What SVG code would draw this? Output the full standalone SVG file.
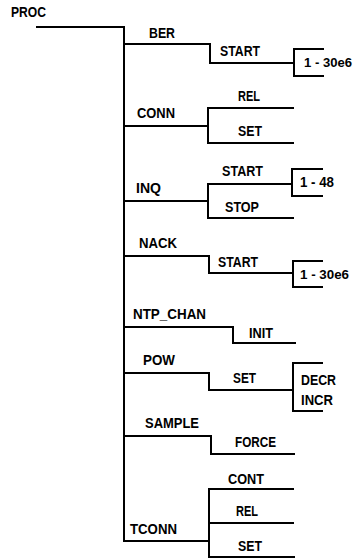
<svg xmlns="http://www.w3.org/2000/svg" width="355" height="559" viewBox="0 0 355 559">
<style>
text{font-family:"Liberation Sans",Arial,sans-serif;font-weight:bold;font-size:14.5px;fill:#000}
text.r{font-size:13px}
.c path{fill:none;stroke:#000;stroke-width:2;stroke-linecap:square}
</style>
<rect width="355" height="559" fill="#fff"/>
<g class="c" id="connectors">
<path d="M37,27 H124 V541 H209"/>
<path d="M124,44 H210 V63 H294"/>
<path d="M323,49 H294 V76 H323"/>
<path d="M124,126 H208"/>
<path d="M293,108 H208 V143 H293"/>
<path d="M124,201 H208"/>
<path d="M292,184 H208 V218 H293"/>
<path d="M322,169 H292 V196 H322"/>
<path d="M124,256 H209 V273 H293"/>
<path d="M322,261 H293 V287 H322"/>
<path d="M124,327 H233 V343 H295"/>
<path d="M124,373 H209 V390 H293"/>
<path d="M322,363 H293 V411 H322"/>
<path d="M124,436 H211 V454 H294"/>
<path d="M293,489 H209 V557 H294"/>
<path d="M209,523 H293"/>
</g>
<g id="proc"><text x="11" y="17" textLength="35" lengthAdjust="spacingAndGlyphs">PROC</text></g>
<g id="ber"><text x="149" y="38" textLength="26" lengthAdjust="spacingAndGlyphs">BER</text></g>
<g id="ber-start"><text x="220" y="56" textLength="40" lengthAdjust="spacingAndGlyphs">START</text></g>
<g id="ber-range"><text class="r" x="304" y="67" textLength="48" lengthAdjust="spacingAndGlyphs">1 - 30e6</text></g>
<g id="conn"><text x="137" y="118" textLength="38" lengthAdjust="spacingAndGlyphs">CONN</text></g>
<g id="conn-rel"><text x="238" y="101" textLength="22" lengthAdjust="spacingAndGlyphs">REL</text></g>
<g id="conn-set"><text x="238" y="136" textLength="24" lengthAdjust="spacingAndGlyphs">SET</text></g>
<g id="inq"><text x="136" y="193" textLength="25" lengthAdjust="spacingAndGlyphs">INQ</text></g>
<g id="inq-start"><text x="222" y="176" textLength="41" lengthAdjust="spacingAndGlyphs">START</text></g>
<g id="inq-stop"><text x="225" y="212" textLength="34" lengthAdjust="spacingAndGlyphs">STOP</text></g>
<g id="inq-range"><text x="300" y="187" textLength="34" lengthAdjust="spacingAndGlyphs">1 - 48</text></g>
<g id="nack"><text x="139" y="248" textLength="38" lengthAdjust="spacingAndGlyphs">NACK</text></g>
<g id="nack-start"><text x="218" y="267" textLength="40" lengthAdjust="spacingAndGlyphs">START</text></g>
<g id="nack-range"><text class="r" x="300" y="279" textLength="49" lengthAdjust="spacingAndGlyphs">1 - 30e6</text></g>
<g id="ntp-chan"><text x="133" y="319" textLength="73" lengthAdjust="spacingAndGlyphs">NTP_CHAN</text></g>
<g id="ntp-init"><text x="249" y="338" textLength="24" lengthAdjust="spacingAndGlyphs">INIT</text></g>
<g id="pow"><text x="143" y="365" textLength="32" lengthAdjust="spacingAndGlyphs">POW</text></g>
<g id="pow-set"><text x="233" y="383" textLength="23" lengthAdjust="spacingAndGlyphs">SET</text></g>
<g id="pow-decr"><text x="301" y="385" textLength="35" lengthAdjust="spacingAndGlyphs">DECR</text></g>
<g id="pow-incr"><text x="301" y="405" textLength="32" lengthAdjust="spacingAndGlyphs">INCR</text></g>
<g id="sample"><text x="145" y="428" textLength="54" lengthAdjust="spacingAndGlyphs">SAMPLE</text></g>
<g id="sample-force"><text x="235" y="447" textLength="41" lengthAdjust="spacingAndGlyphs">FORCE</text></g>
<g id="tconn"><text x="130" y="534" textLength="47" lengthAdjust="spacingAndGlyphs">TCONN</text></g>
<g id="tconn-cont"><text x="228" y="484" textLength="36" lengthAdjust="spacingAndGlyphs">CONT</text></g>
<g id="tconn-rel"><text x="236" y="516" textLength="22" lengthAdjust="spacingAndGlyphs">REL</text></g>
<g id="tconn-set"><text x="238" y="551" textLength="24" lengthAdjust="spacingAndGlyphs">SET</text></g>
</svg>
